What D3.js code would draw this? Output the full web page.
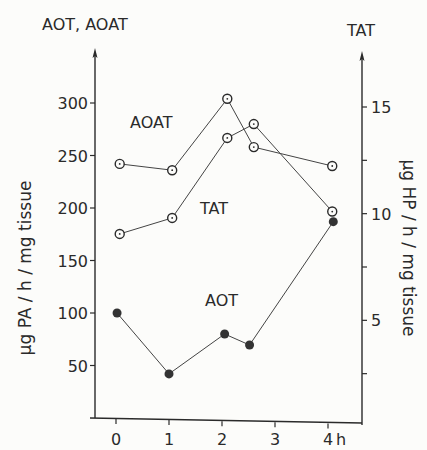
<!DOCTYPE html>
<html>
<head>
<meta charset="utf-8">
<script src="https://cdn.jsdelivr.net/npm/d3@7"></script>
<style>
  body { margin: 0; background: #fcfcfa; }
  text { font-family: "DejaVu Sans", sans-serif; fill: #2a2a2a; }
</style>
</head>
<body>
<div id="chart"></div>
<script>
let w = 427;
let h = 450;

// time in hours (points sit a bit off the whole hours)
let timesOpen = [0.07, 1.06, 2.1, 2.6, 4.08];
let timesAOT = [0.02, 1.0, 2.05, 2.52, 4.1];

// left axis, µg PA / h / mg tissue
let aoat = [242, 236, 304, 258, 240];
let aot = [100, 42, 80, 69.5, 187];
// right axis, µg HP / h / mg tissue
let tat = [9.05, 9.8, 13.55, 14.2, 10.1];

let xTicks = [0, 1, 2, 3, 4];
let leftTicks = [50, 100, 150, 200, 250, 300];
let rightMajor = [5, 10, 15];
let rightMinor = [2.5, 7.5, 12.5];

let ink = "#2a2a2a";

let viz = d3.select("#chart")
  .append("svg")
  .attr("width", w)
  .attr("height", h);

let xScale = d3.scaleLinear().domain([0, 4]).range([116, 328]);
let yLeft = d3.scaleLinear().domain([0, 300]).range([418, 103]);
let yRight = d3.scaleLinear().domain([0, 15]).range([427, 107]);

// small upward arrowhead at the top of an axis
function arrowUp(x, y) {
  viz.append("path")
    .attr("d", `M${x},${y} L${x + 2.5},${y + 10} L${x},${y + 8} L${x - 2.5},${y + 10} Z`)
    .attr("fill", ink);
}

// left axis line + ticks
let leftX = 95;
viz.append("line")
  .attr("x1", leftX).attr("x2", leftX)
  .attr("y1", yLeft(0)).attr("y2", 52)
  .attr("stroke", ink).attr("stroke-width", 1.4);
arrowUp(leftX, 48);

viz.selectAll(".ltick").data(leftTicks).enter()
  .append("line")
  .attr("class", "ltick")
  .attr("x1", leftX - 5).attr("x2", leftX)
  .attr("y1", d => yLeft(d)).attr("y2", d => yLeft(d))
  .attr("stroke", ink).attr("stroke-width", 1.2);

viz.selectAll(".llabel").data(leftTicks).enter()
  .append("text")
  .attr("class", "llabel")
  .attr("x", leftX - 7)
  .attr("y", d => yLeft(d) + 6)
  .attr("text-anchor", "end")
  .attr("font-size", 16)
  .text(d => d);

// right axis
let rightX = 362;
viz.append("line")
  .attr("x1", rightX).attr("x2", rightX)
  .attr("y1", 425).attr("y2", 56)
  .attr("stroke", ink).attr("stroke-width", 1.4);
arrowUp(rightX, 51);

viz.selectAll(".rtick").data(rightMajor.concat(rightMinor)).enter()
  .append("line")
  .attr("class", "rtick")
  .attr("x1", rightX).attr("x2", rightX + 5)
  .attr("y1", d => yRight(d)).attr("y2", d => yRight(d))
  .attr("stroke", ink).attr("stroke-width", 1.2);

viz.selectAll(".rlabel").data(rightMajor).enter()
  .append("text")
  .attr("class", "rlabel")
  .attr("x", rightX + 9)
  .attr("y", d => yRight(d) + 6)
  .attr("font-size", 16)
  .text(d => d);

// x axis (slightly tilted, as in the scan)
viz.append("line")
  .attr("x1", 90).attr("x2", rightX)
  .attr("y1", 418).attr("y2", 423)
  .attr("stroke", ink).attr("stroke-width", 1.4);

viz.selectAll(".xtick").data(xTicks).enter()
  .append("line")
  .attr("class", "xtick")
  .attr("x1", d => xScale(d)).attr("x2", d => xScale(d))
  .attr("y1", d => 419 + d * 1.1).attr("y2", d => 424 + d * 1.1)
  .attr("stroke", ink).attr("stroke-width", 1.2);

viz.selectAll(".xlabel").data(xTicks).enter()
  .append("text")
  .attr("class", "xlabel")
  .attr("x", d => xScale(d))
  .attr("y", 445)
  .attr("text-anchor", "middle")
  .attr("font-size", 16)
  .text(d => d);

viz.append("text")
  .attr("x", xScale(4) + 8).attr("y", 445)
  .attr("font-size", 16)
  .text("h");

// lines
let lineLeft = (times) => d3.line()
  .x((d, i) => xScale(times[i]))
  .y(d => yLeft(d));
let lineRight = (times) => d3.line()
  .x((d, i) => xScale(times[i]))
  .y(d => yRight(d));

viz.append("path").datum(aoat)
  .attr("d", lineLeft(timesOpen))
  .attr("fill", "none").attr("stroke", "#444").attr("stroke-width", 1);
viz.append("path").datum(tat)
  .attr("d", lineRight(timesOpen))
  .attr("fill", "none").attr("stroke", "#444").attr("stroke-width", 1);
viz.append("path").datum(aot)
  .attr("d", lineLeft(timesAOT))
  .attr("fill", "none").attr("stroke", "#444").attr("stroke-width", 1);

// open markers with a centre dot
function openMarkers(values, scale, cls) {
  let g = viz.selectAll("." + cls).data(values).enter()
    .append("g")
    .attr("class", cls)
    .attr("transform", (d, i) => `translate(${xScale(timesOpen[i])},${scale(d)})`);
  g.append("circle").attr("r", 4.5)
    .attr("fill", "#fcfcfa").attr("stroke", ink).attr("stroke-width", 1.4);
  g.append("circle").attr("r", 0.9).attr("fill", ink);
}
openMarkers(aoat, yLeft, "aoatpt");
openMarkers(tat, yRight, "tatpt");

viz.selectAll(".aotpt").data(aot).enter()
  .append("circle")
  .attr("class", "aotpt")
  .attr("cx", (d, i) => xScale(timesAOT[i]))
  .attr("cy", d => yLeft(d))
  .attr("r", 4.5)
  .attr("fill", "#333");

// series labels
viz.append("text").attr("x", 130).attr("y", 128).attr("font-size", 16).text("AOAT");
viz.append("text").attr("x", 200).attr("y", 214).attr("font-size", 16).text("TAT");
viz.append("text").attr("x", 205).attr("y", 306).attr("font-size", 16).text("AOT");

// axis headings
viz.append("text").attr("x", 42).attr("y", 30).attr("font-size", 16).text("AOT, AOAT");
viz.append("text").attr("x", 347).attr("y", 36).attr("font-size", 16).text("TAT");

// rotated unit labels
viz.append("text")
  .attr("transform", "translate(31,268) rotate(-90)")
  .attr("text-anchor", "middle")
  .attr("font-size", 17)
  .text("µg PA / h / mg tissue");

viz.append("text")
  .attr("transform", "translate(403,248) rotate(90)")
  .attr("text-anchor", "middle")
  .attr("font-size", 17)
  .text("µg HP / h / mg tissue");
</script>
</body>
</html>
